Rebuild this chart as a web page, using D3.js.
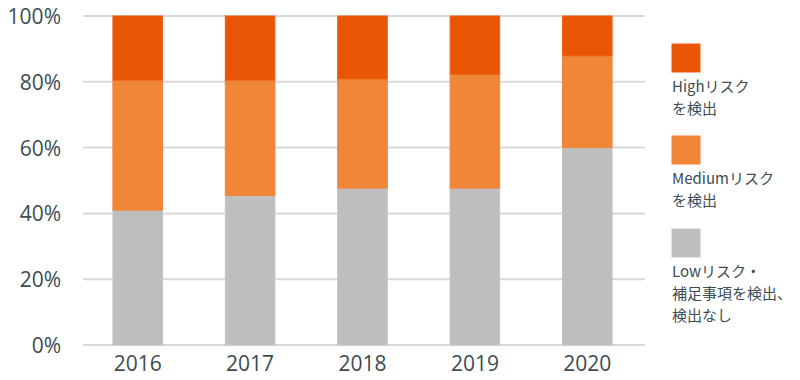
<!DOCTYPE html>
<html>
<head>
<meta charset="utf-8">
<script src="https://cdn.jsdelivr.net/npm/d3@7"></script>
<style>
    body { margin: 0; background: #fff; }
    svg { display: block; }
</style>
</head>
<body>
<svg id="chart" width="800" height="380"></svg>
<script>
// Data (percent of each year).
var years = ['2016', '2017', '2018', '2019', '2020'];
var lowValues = [41, 45.5, 47.7, 47.7, 60];
var mediumValues = [39.5, 35, 33.2, 34.6, 27.9];
var highValues = [19.5, 19.5, 19.1, 17.7, 12.1];
var yTicks = [0, 20, 40, 60, 80, 100];

var seriesKeys = ['low', 'medium', 'high'];
var seriesColors = { low: '#bebebe', medium: '#ef8638', high: '#e85504' };
var seriesStroke = { low: '#c4c4c4', medium: '#f3843a', high: '#f06010' };
var legendLabels = [
    { key: 'high', lines: ['Highリスク', 'を検出'] },
    { key: 'medium', lines: ['Mediumリスク', 'を検出'] },
    { key: 'low', lines: ['Lowリスク・', '補足事項を検出、', '検出なし'] }
];

var textColor = '#3c4c52';
var svg = d3.select('#chart');

var rows = years.map(function(y, i) {
    return { year: y, low: lowValues[i], medium: mediumValues[i], high: highValues[i] };
});

var x = d3.scaleBand()
    .domain(years)
    .range([81.5, 643.5])
    .paddingInner(0.55)
    .paddingOuter(0.275);

var yScale = d3.scaleLinear()
    .domain([0, 100])
    .range([345, 16]);

// Grid lines.
svg.append('g')
    .selectAll('line')
    .data(yTicks)
    .join('line')
    .attr('x1', 83)
    .attr('x2', 645)
    .attr('y1', function(d) { return yScale(d); })
    .attr('y2', function(d) { return yScale(d); })
    .attr('stroke', '#d9d9d9')
    .attr('stroke-width', 2);

// Stacked bars.
var stack = d3.stack().keys(seriesKeys);
var layers = stack(rows);

svg.append('g')
    .selectAll('g')
    .data(layers)
    .join('g')
    .attr('fill', function(d) { return seriesColors[d.key]; })
    .attr('stroke', function(d) { return seriesStroke[d.key]; })
    .attr('stroke-width', 1)
    .selectAll('rect')
    .data(function(d) { return d; })
    .join('rect')
    .attr('x', function(d) { return x(d.data.year) + 0.5; })
    .attr('width', x.bandwidth() - 1)
    .attr('y', function(d) { return yScale(d[1]); })
    .attr('height', function(d) { return yScale(d[0]) - yScale(d[1]); });

// Y axis labels.
var yAxis = d3.axisLeft(yScale)
    .tickValues(yTicks)
    .tickSize(0)
    .tickPadding(0)
    .tickFormat(function(d) { return d + '%'; });

var yAxisG = svg.append('g')
    .attr('transform', 'translate(61,0)')
    .call(yAxis);
yAxisG.select('.domain').remove();
yAxisG.selectAll('text')
    .attr('font-family', '"Open Sans", sans-serif')
    .attr('font-size', 21)
    .attr('fill', textColor)
    .attr('dy', '0.36em');

// X axis labels.
var xAxis = d3.axisBottom(x)
    .tickSize(0)
    .tickPadding(0);

var xAxisG = svg.append('g')
    .attr('transform', 'translate(0,353)')
    .call(xAxis);
xAxisG.select('.domain').remove();
xAxisG.selectAll('text')
    .attr('font-family', '"Open Sans", sans-serif')
    .attr('font-size', 21)
    .attr('fill', textColor)
    .attr('dy', '0.85em');

// Legend.
var legendTop = [44, 136, 229];
var legend = svg.append('g')
    .selectAll('g')
    .data(legendLabels)
    .join('g')
    .attr('transform', function(d, i) { return 'translate(672,' + legendTop[i] + ')'; });

legend.append('rect')
    .attr('width', 28)
    .attr('height', 28)
    .attr('fill', function(d) { return seriesColors[d.key]; })
    .attr('stroke', function(d) { return seriesStroke[d.key]; })
    .attr('stroke-width', 1);

legend.selectAll('text')
    .data(function(d) { return d.lines; })
    .join('text')
    .attr('font-family', '"Noto Sans CJK JP", "Noto Sans", sans-serif')
    .attr('font-size', 15)
    .attr('fill', textColor)
    .attr('x', 0)
    .attr('y', function(d, i) { return 48 + i * 21.8; })
    .text(function(d) { return d; });
</script>
</body>
</html>
